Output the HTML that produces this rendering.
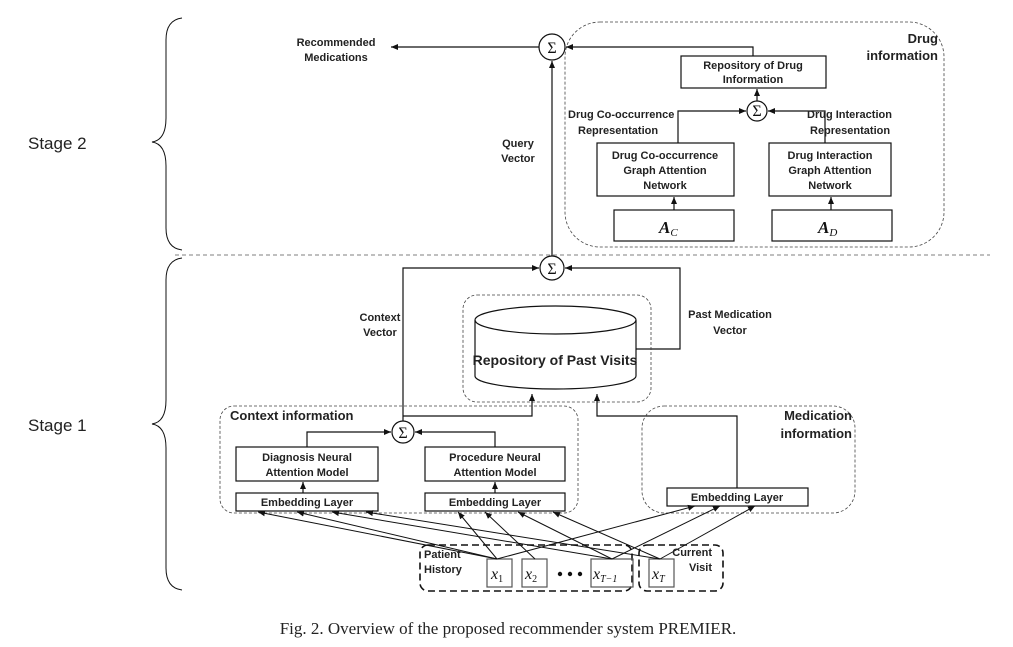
<!DOCTYPE html>
<html><head><meta charset="utf-8"><style>
html,body{margin:0;padding:0;background:#fff;}
svg{display:block;}
.t{font-family:"Liberation Sans",sans-serif;font-weight:bold;font-size:11px;fill:#222;}
.m{font-family:"Liberation Serif",serif;font-style:italic;font-weight:bold;fill:#111;}
</style></head><body>
<svg width="1013" height="647" viewBox="0 0 1013 647" xmlns="http://www.w3.org/2000/svg">
<defs><marker id="a" markerWidth="8" markerHeight="8" refX="7" refY="4" orient="auto" markerUnits="userSpaceOnUse"><path d="M0,1 L7,4 L0,7 z" fill="#111"/></marker></defs>
<g fill="none" stroke="#111" stroke-width="1.2">
<path d="M182,18 Q166,20 166,40 L166,118 Q166,140 152,142 Q166,144 166,166 L166,228 Q166,248 182,250" stroke-width="1"/>
<path d="M182,258 Q166,260 166,280 L166,400 Q166,422 152,424 Q166,426 166,448 L166,568 Q166,588 182,590" stroke-width="1"/>
<line x1="175" y1="255" x2="990" y2="255" stroke-dasharray="4,3" stroke-width="0.8" stroke="#555"/>
<rect x="565" y="22" width="379" height="225" rx="35" stroke-dasharray="3,2" stroke-width="0.8" stroke="#444"/>
<circle cx="552" cy="47" r="13"/>
<line x1="539" y1="47" x2="391" y2="47" marker-end="url(#a)"/>
<line x1="552" y1="256" x2="552" y2="61" marker-end="url(#a)"/>
<rect x="681" y="56" width="145" height="32"/>
<polyline points="753,56 753,47 566,47" marker-end="url(#a)"/>
<circle cx="757" cy="111" r="10"/>
<line x1="757" y1="101" x2="757" y2="89" marker-end="url(#a)"/>
<polyline points="678,143 678,111 746,111" marker-end="url(#a)"/>
<polyline points="825,143 825,111 768,111" marker-end="url(#a)"/>
<rect x="597" y="143" width="137" height="53"/>
<rect x="769" y="143" width="122" height="53"/>
<rect x="614" y="210" width="120" height="31"/>
<rect x="772" y="210" width="120" height="31"/>
<line x1="674" y1="210" x2="674" y2="197" marker-end="url(#a)"/>
<line x1="831" y1="210" x2="831" y2="197" marker-end="url(#a)"/>
<circle cx="552" cy="268" r="12"/>
<polyline points="403,421 403,268 539,268" marker-end="url(#a)"/>
<polyline points="636,349 680,349 680,268 565,268" marker-end="url(#a)"/>
<rect x="463" y="295" width="188" height="107" rx="14" stroke-dasharray="3,2" stroke-width="0.8" stroke="#444"/>
<path d="M475,320 L475,376 A80.5,13 0 0 0 636,376 L636,320"/>
<ellipse cx="555.5" cy="320" rx="80.5" ry="14"/>
<polyline points="403,416 532,416 532,394" marker-end="url(#a)"/>
<polyline points="737,488 737,416 597,416 597,394" marker-end="url(#a)"/>
<rect x="220" y="406" width="358" height="107" rx="14" stroke-dasharray="3,2" stroke-width="0.8" stroke="#444"/>
<rect x="642" y="406" width="213" height="107" rx="22" stroke-dasharray="3,2" stroke-width="0.8" stroke="#444"/>
<circle cx="403" cy="432" r="11"/>
<polyline points="307,447 307,432 391,432" marker-end="url(#a)"/>
<polyline points="495,447 495,432 415,432" marker-end="url(#a)"/>
<rect x="236" y="447" width="142" height="34"/>
<rect x="425" y="447" width="140" height="34"/>
<rect x="236" y="493" width="142" height="18"/>
<rect x="425" y="493" width="140" height="18"/>
<rect x="667" y="488" width="141" height="18"/>
<line x1="303" y1="493" x2="303" y2="482" marker-end="url(#a)"/>
<line x1="495" y1="493" x2="495" y2="482" marker-end="url(#a)"/>
<rect x="420" y="545" width="212" height="46" rx="8" stroke-dasharray="7,4" stroke-width="1.6"/>
<rect x="639" y="545" width="84" height="46" rx="8" stroke-dasharray="7,4" stroke-width="1.6"/>
<rect x="487" y="559" width="25" height="28" stroke="#555"/>
<rect x="522" y="559" width="25" height="28" stroke="#555"/>
<rect x="591" y="559" width="42" height="28" stroke="#555"/>
<rect x="649" y="559" width="25" height="28" stroke="#555"/>
<g stroke-width="1" marker-end="url(#a)">
<line x1="497" y1="559" x2="258" y2="512"/>
<line x1="497" y1="559" x2="297" y2="512"/>
<line x1="612" y1="559" x2="332" y2="512"/>
<line x1="660" y1="559" x2="366" y2="512"/>
<line x1="497" y1="559" x2="458" y2="512"/>
<line x1="535" y1="559" x2="485" y2="512"/>
<line x1="612" y1="559" x2="518" y2="512"/>
<line x1="660" y1="559" x2="553" y2="512"/>
<line x1="497" y1="559" x2="695" y2="506"/>
<line x1="612" y1="559" x2="720" y2="506"/>
<line x1="660" y1="559" x2="755" y2="506"/>
</g>
</g>
<g fill="#111"><circle cx="560" cy="574" r="2.2"/><circle cx="570" cy="574" r="2.2"/><circle cx="580" cy="574" r="2.2"/></g>
<g font-family="Liberation Serif,serif" font-size="16" text-anchor="middle" fill="#111">
<text x="552" y="53">Σ</text><text x="757" y="116">Σ</text><text x="552" y="274">Σ</text><text x="403" y="438">Σ</text>
</g>
<text x="28" y="149" font-family="Liberation Sans,sans-serif" font-size="17" fill="#222">Stage 2</text>
<text x="28" y="431" font-family="Liberation Sans,sans-serif" font-size="17" fill="#222">Stage 1</text>
<g class="t" text-anchor="middle">
<text x="336" y="46">Recommended</text><text x="336" y="61">Medications</text>
<text x="518" y="147">Query</text><text x="518" y="162">Vector</text>
<text x="753" y="69">Repository of Drug</text><text x="753" y="83">Information</text>
<text x="665" y="159">Drug Co-occurrence</text><text x="665" y="174">Graph Attention</text><text x="665" y="189">Network</text>
<text x="830" y="159">Drug Interaction</text><text x="830" y="174">Graph Attention</text><text x="830" y="189">Network</text>
<text x="380" y="321">Context</text><text x="380" y="336">Vector</text>
<text x="730" y="318">Past Medication</text><text x="730" y="334">Vector</text>
<text x="555" y="365" font-size="14">Repository of Past Visits</text>
<text x="307" y="461">Diagnosis Neural</text><text x="307" y="476">Attention Model</text>
<text x="495" y="461">Procedure Neural</text><text x="495" y="476">Attention Model</text>
<text x="307" y="506">Embedding Layer</text><text x="495" y="506">Embedding Layer</text><text x="737" y="501">Embedding Layer</text>
</g>
<g class="t">
<text x="568" y="118">Drug Co-occurrence</text><text x="578" y="134">Representation</text>
<text x="807" y="118">Drug Interaction</text><text x="810" y="134">Representation</text>
<text x="230" y="420" font-size="13">Context information</text>
<text x="424" y="558">Patient</text><text x="424" y="573">History</text>
</g>
<g class="t" text-anchor="end">
<text x="938" y="43" font-size="13">Drug</text><text x="938" y="60" font-size="13">information</text>
<text x="852" y="420" font-size="13">Medication</text><text x="852" y="438" font-size="13">information</text>
<text x="712" y="556">Current</text><text x="712" y="571">Visit</text>
</g>
<g class="m">
<text x="659" y="233" font-size="17">A<tspan font-size="11" dy="3" font-weight="normal">C</tspan></text>
<text x="818" y="233" font-size="17">A<tspan font-size="11" dy="3" font-weight="normal">D</tspan></text>
</g>
<g font-family="Liberation Serif,serif" font-style="italic" fill="#111" font-size="16">
<text x="491" y="579">x<tspan font-size="10" dy="3" font-style="normal">1</tspan></text>
<text x="525" y="579">x<tspan font-size="10" dy="3" font-style="normal">2</tspan></text>
<text x="593" y="579">x<tspan font-size="10" dy="3">T−1</tspan></text>
<text x="652" y="579">x<tspan font-size="10" dy="3">T</tspan></text>
</g>
<text x="508" y="634" text-anchor="middle" font-family="Liberation Serif,serif" font-size="17" fill="#222">Fig. 2.  Overview of the proposed recommender system PREMIER.</text>
</svg>
</body></html>
